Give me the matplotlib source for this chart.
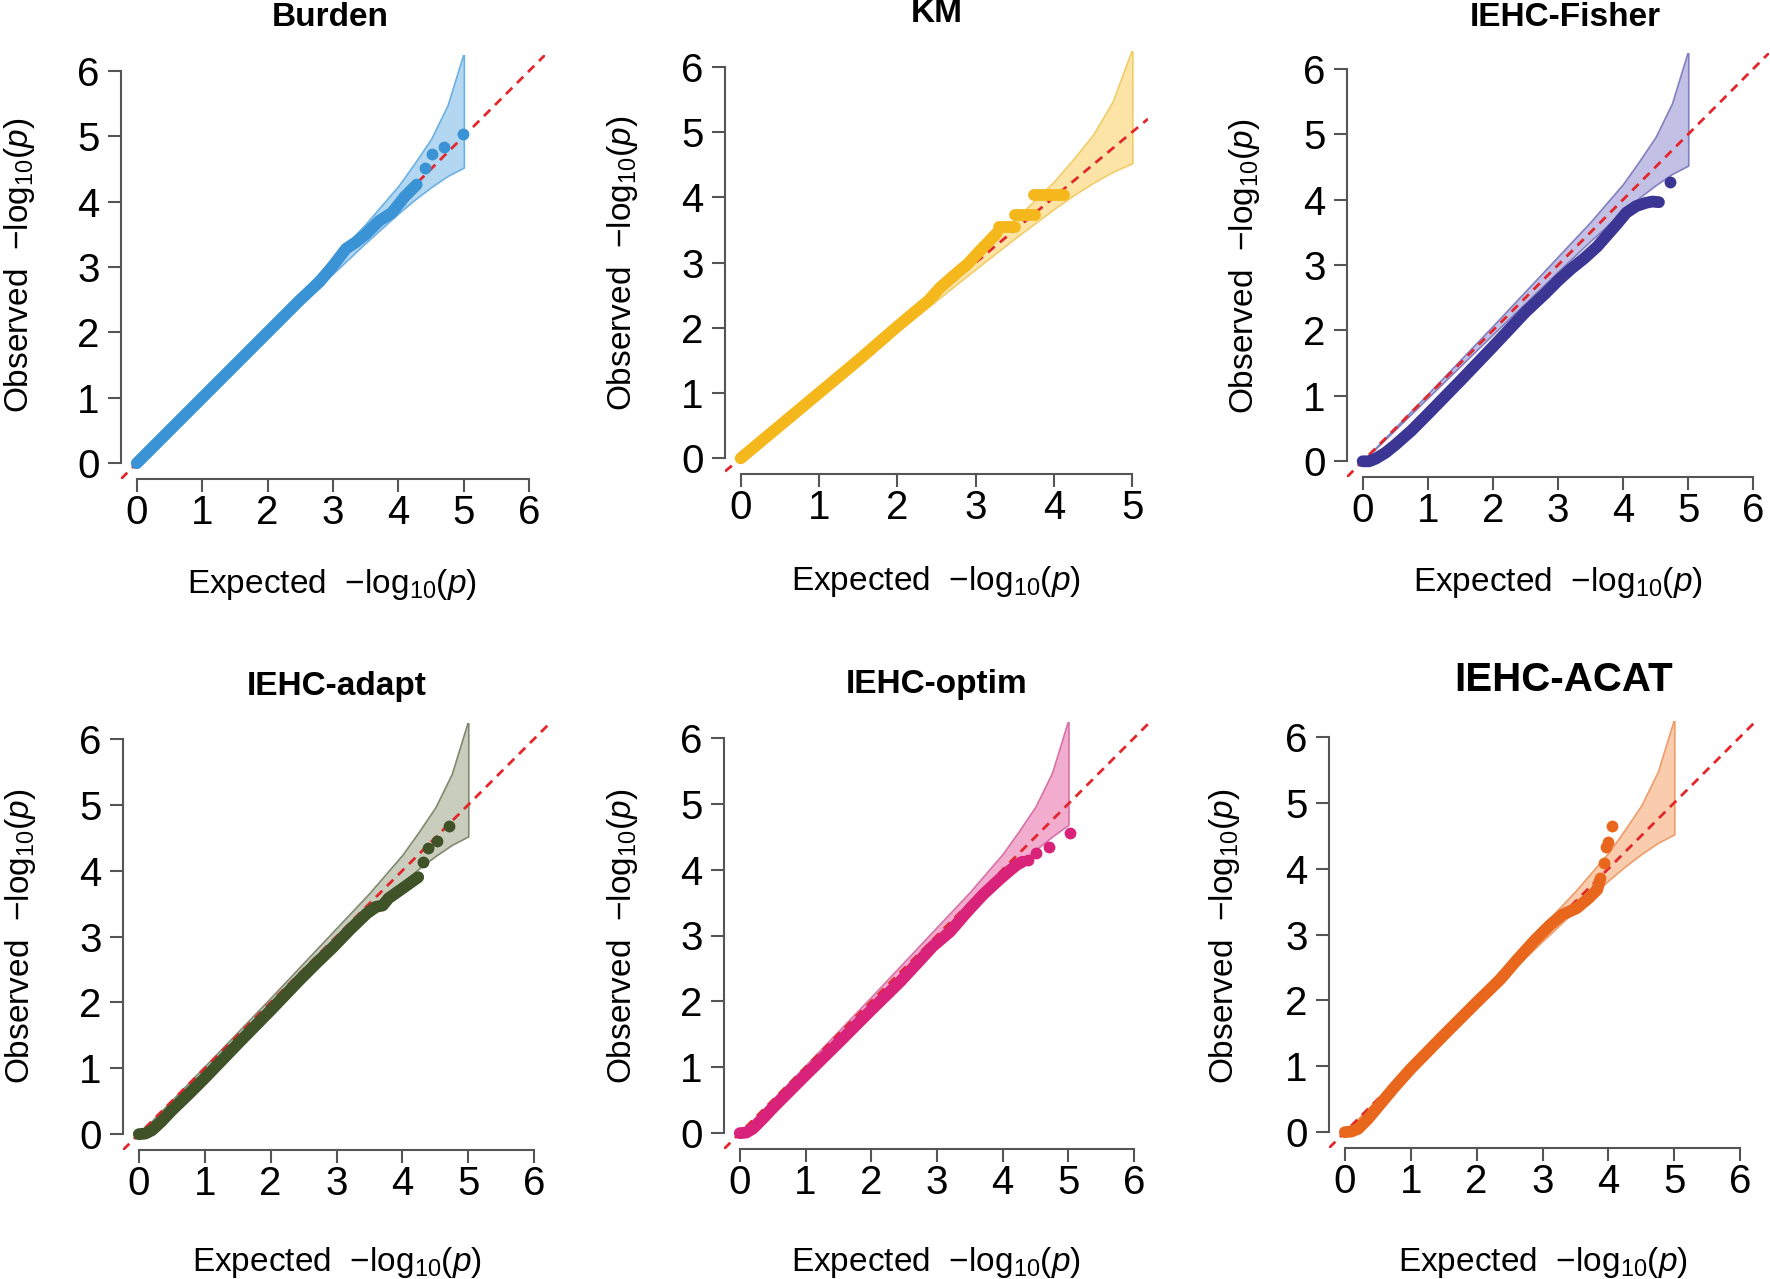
import matplotlib
matplotlib.use("Agg")
import matplotlib.pyplot as plt

plt.rcParams['font.family'] = ['Liberation Sans', 'DejaVu Sans']
plt.rcParams['mathtext.fontset'] = 'custom'
plt.rcParams['mathtext.rm'] = 'Liberation Sans'
plt.rcParams['mathtext.it'] = 'Liberation Sans:italic'
plt.rcParams['mathtext.bf'] = 'Liberation Sans:bold'

# --- data (expected vs observed -log10 p) ---
titles = ["Burden", "KM", "IEHC-Fisher", "IEHC-adapt", "IEHC-optim", "IEHC-ACAT"]

band_x = [0, 1, 2, 2.5, 3, 3.5, 4, 4.25, 4.5, 4.75, 5]
band_hi = [0, 1.03, 2.07, 2.6, 3.13, 3.66, 4.24, 4.59, 4.96, 5.47, 6.28]
band_lo = [0, 0.97, 1.94, 2.42, 2.9, 3.37, 3.82, 4.03, 4.22, 4.39, 4.52]
optim_band_lo = [0, 0.97, 1.94, 2.42, 2.9, 3.38, 3.85, 4.08, 4.3, 4.5, 4.68]

burden_x = [0, 0.5, 1, 1.5, 2, 2.5, 2.8, 3.0, 3.2, 3.35, 3.5, 3.7, 3.9, 4.1, 4.28]
burden_y = [0, 0.5, 1, 1.5, 2, 2.5, 2.78, 3.02, 3.28, 3.38, 3.5, 3.7, 3.83, 4.08, 4.26]
burden_tail_x = [4.40, 4.51, 4.69, 4.99]
burden_tail_y = [4.51, 4.72, 4.83, 5.03]

km_x = [0, 0.5, 1, 1.5, 2, 2.2, 2.4, 2.55, 2.75, 2.9, 3.03, 3.15, 3.27]
km_y = [0, 0.5, 1, 1.5, 2.02, 2.22, 2.42, 2.62, 2.83, 2.98, 3.15, 3.3, 3.45]
km_step_x0 = [3.30, 3.50, 3.74]
km_step_x1 = [3.50, 3.76, 4.13]
km_step_y = [3.55, 3.73, 4.03]

fisher_x = [0, 0.1, 0.2, 0.35, 0.5, 0.75, 1, 1.5, 2, 2.5, 2.8, 3.0, 3.2, 3.4,
            3.6, 3.75, 3.9, 4.05, 4.2, 4.35, 4.45, 4.55]
fisher_y = [0, 0.0, 0.04, 0.13, 0.25, 0.47, 0.72, 1.23, 1.75, 2.28, 2.56, 2.76, 2.94, 3.1,
            3.28, 3.45, 3.62, 3.8, 3.9, 3.95, 3.97, 3.96]
fisher_tail_x = [4.72]
fisher_tail_y = [4.27]

adapt_x = [0, 0.1, 0.2, 0.35, 0.5, 0.75, 1, 1.5, 2, 2.44, 2.7, 2.95, 3.2, 3.46,
           3.6, 3.7, 3.79, 3.96, 4.1, 4.24]
adapt_y = [0, 0.01, 0.06, 0.2, 0.36, 0.6, 0.85, 1.37, 1.88, 2.34, 2.6, 2.84, 3.1, 3.35,
           3.45, 3.47, 3.58, 3.7, 3.8, 3.9]
adapt_tail_x = [4.31, 4.39, 4.52, 4.71]
adapt_tail_y = [4.13, 4.34, 4.45, 4.68]

optim_x = [0, 0.1, 0.2, 0.35, 0.5, 0.75, 1, 1.5, 2, 2.44, 2.7, 2.94, 3.2, 3.45,
           3.7, 3.96, 4.1, 4.21, 4.3]
optim_y = [0, 0.01, 0.07, 0.22, 0.38, 0.63, 0.88, 1.37, 1.87, 2.3, 2.58, 2.84, 3.06, 3.35,
           3.62, 3.86, 3.98, 4.07, 4.12]
optim_tail_x = [4.39, 4.51, 4.70, 5.02]
optim_tail_y = [4.15, 4.25, 4.35, 4.55]

acat_x = [0, 0.1, 0.2, 0.35, 0.5, 0.75, 1, 1.5, 2, 2.36, 2.6, 2.87, 3.12, 3.3,
          3.52, 3.7, 3.83, 3.88]
acat_y = [0, 0.01, 0.05, 0.2, 0.38, 0.68, 0.96, 1.47, 1.97, 2.32, 2.6, 2.9, 3.15, 3.3,
          3.4, 3.55, 3.68, 3.85]
acat_tail_x = [3.93, 3.97, 3.99, 4.05]
acat_tail_y = [4.09, 4.33, 4.41, 4.64]

point_colors = ['#3a93d5', '#f4b81c', '#3b3594', '#3f5228', '#d9227a', '#e8671c']
band_fill = ['#b3d6f1', '#fbe4a6', '#c2c0e4', '#c8cdbd', '#f2acce', '#f9ccad']
band_edge = ['#6db0e3', '#f1cd68', '#8280c2', '#7f8a70', '#d872a8', '#ee9c6a']
red = '#e3262b'
axis_col = '#555555'

W, H = 1770, 1279

# axes boxes in pixels: left, top, right, bottom
boxes = [(121, 55, 545, 479), (725, 51, 1148, 474), (1347, 53, 1769, 477),
         (123, 723, 550, 1150), (724, 722, 1150, 1149), (1329, 721, 1756, 1148)]
xmax = [6, 5, 6, 6, 6, 6]
title_pos = [(330, 18), (937, 14), (1565, 17), (337, 686), (937, 684), (1564, 680)]
title_size = [24, 24, 24, 24, 24, 29]
xlab_pos = [(332, 585), (936, 581), (1558, 583), (337, 1262), (936, 1262), (1543, 1262)]
ylab_pos = [(20, 265), (622, 263), (1244, 266), (21, 936), (622, 936), (1225, 936)]

series = [(burden_x, burden_y, burden_tail_x, burden_tail_y),
          (km_x, km_y, [], []),
          (fisher_x, fisher_y, fisher_tail_x, fisher_tail_y),
          (adapt_x, adapt_y, adapt_tail_x, adapt_tail_y),
          (optim_x, optim_y, optim_tail_x, optim_tail_y),
          (acat_x, acat_y, acat_tail_x, acat_tail_y)]

fig = plt.figure(figsize=(W / 100, H / 100), dpi=100)


def fx(x):
    return x / W


def fy(y):
    return 1 - y / H


for i in range(6):
    l, t, r, b = boxes[i]
    ax = fig.add_axes([fx(l), fy(b), (r - l) / W, (b - t) / H])
    m = xmax[i]
    ax.set_xlim(-0.04 * m, m * 1.04)
    ax.set_ylim(-0.24, 6.24)

    lo = optim_band_lo if i == 4 else band_lo
    ax.fill_between(band_x, lo, band_hi, facecolor=band_fill[i],
                    edgecolor=band_edge[i], lw=1.2, zorder=1)
    ax.axline((0, 0), (1, 1), color=red, lw=2.0, dashes=(3.2, 2.4), zorder=2)

    px, py, tx, ty = series[i]
    ax.plot(px, py, color=point_colors[i], lw=8.5, solid_capstyle='round',
            solid_joinstyle='round', zorder=3)
    if tx:
        ax.plot(tx, ty, 'o', ms=8.5, color=point_colors[i], mec='none', zorder=4)
    if i == 1:
        lc = ax.hlines(km_step_y, km_step_x0, km_step_x1, color=point_colors[i],
                       lw=8.5, zorder=3)
        lc.set_capstyle('round')

    for s in ['top', 'right']:
        ax.spines[s].set_visible(False)
    for s in ['left', 'bottom']:
        ax.spines[s].set_color(axis_col)
        ax.spines[s].set_linewidth(1.5)
    ax.spines['left'].set_bounds(0, 6)
    ax.spines['bottom'].set_bounds(0, m)
    ax.set_xticks(range(m + 1))
    ax.set_yticks(range(7))
    ax.tick_params(length=9.5, width=1.5, color=axis_col, labelsize=29, labelcolor='black')
    ax.tick_params(axis='x', pad=1)
    ax.tick_params(axis='y', pad=6)
    ax.patch.set_visible(False)

    fig.text(fx(title_pos[i][0]), fy(title_pos[i][1]), titles[i], ha='center', va='center',
             fontsize=title_size[i], fontweight='bold')
    fig.text(fx(xlab_pos[i][0]), fy(xlab_pos[i][1]), r"Expected  $-\mathrm{log}_{10}(\mathit{p})$",
             ha='center', va='center', fontsize=24)
    fig.text(fx(ylab_pos[i][0]), fy(ylab_pos[i][1]), r"Observed  $-\mathrm{log}_{10}(\mathit{p})$",
             ha='center', va='center', fontsize=24, rotation=90)

fig.savefig("out.png", dpi=100, facecolor='white')
